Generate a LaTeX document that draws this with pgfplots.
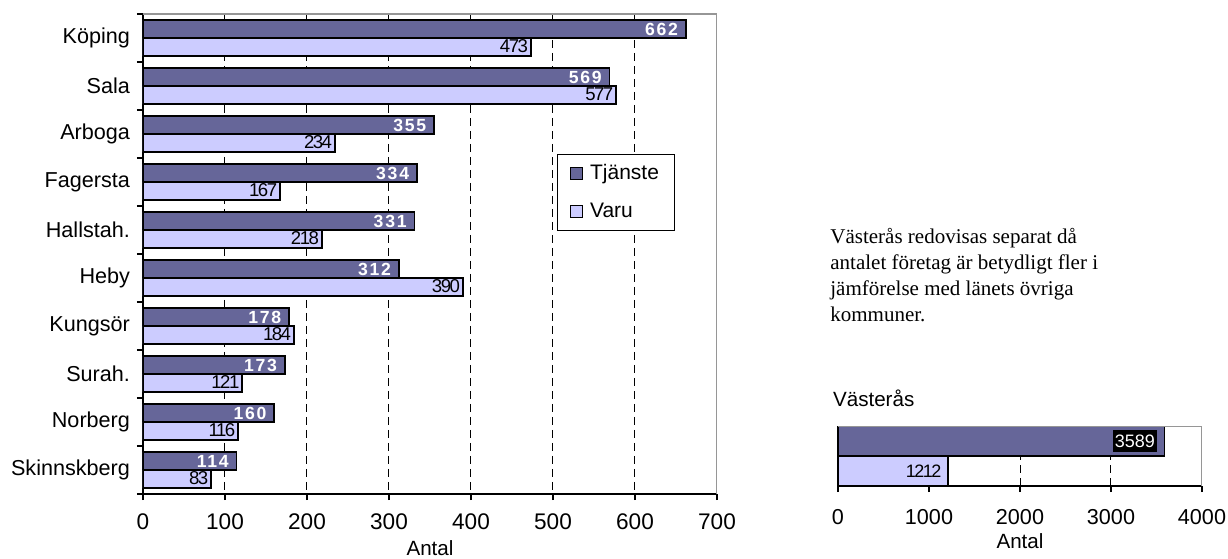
\documentclass[border=0pt]{standalone}
\usepackage{pgfplots}
\pgfplotsset{compat=1.18}
\usepackage{fontspec}
\setmainfont{Liberation Sans}
\newfontfamily\timesfont{Liberation Serif}
\newfontfamily\spacedfont[LetterSpace=10]{Liberation Sans}
\newfontfamily\tightfont[LetterSpace=-8]{Liberation Sans}
\definecolor{tj}{RGB}{102,102,153}
\definecolor{va}{RGB}{204,204,255}
\definecolor{frame}{RGB}{150,150,150}
\begin{document}
\begin{tikzpicture}
\path[use as bounding box] (0,0) rectangle (614pt,279pt);
\begin{axis}[
  at={(71.5pt,32pt)}, anchor=south west,
  scale only axis, width=287pt, height=240pt,
  xbar, y dir=reverse,
  xmin=0, xmax=700, xtick={0,100,...,700},
  ymin=-0.5, ymax=9.5,
  ytick={-0.5,0.5,...,9.5},
  y tick label as interval,
  yticklabels={K\"oping,Sala,Arboga,Fagersta,Hallstah.,Heby,Kungs\"or,Surah.,Norberg,Skinnskberg},
  axis x line*=bottom, axis y line*=left,
  axis line style={black, line width=0.7pt},
  tick align=outside, major tick length=3pt,
  tick style={black, line width=0.6pt},
  xmajorgrids, grid style={black, dash pattern=on 4pt off 2.5pt, line width=0.5pt},
  bar width=0.375,
  yticklabel style={font=\fontsize{10.8}{12}\selectfont},
  xticklabel style={font=\fontsize{11.3}{12}\selectfont, yshift=-3.5pt},
  /pgf/number format/assume math mode=true,
  xlabel={Antal}, xlabel style={font=\fontsize{10.3}{12}\selectfont, yshift=1.5pt},
  legend style={at={(rel axis cs:0.722,0.708)}, anchor=north west, draw=black, line width=0.5pt,
     font=\fontsize{10.5}{12}\selectfont, inner xsep=6pt, inner ysep=3pt, row sep=6pt,
     /tikz/every odd column/.append style={column sep=1.5pt}},
  legend image code/.code={\draw[#1, draw=black, line width=0.6pt] (0pt,-3pt) rectangle (6pt,3pt);},
  legend cell align=left,
]
\addplot[fill=tj, draw=black, line width=0.8pt, bar shift=-0.1875,
  nodes near coords,
  every node near coord/.append style={anchor=east, xshift=-2.5pt, text=white, inner sep=1pt, font=\spacedfont\bfseries\fontsize{8.8}{9}\selectfont}]
  coordinates {(662,0) (569,1) (355,2) (334,3) (331,4) (312,5) (178,6) (173,7) (160,8) (114,9)};
\addlegendentry{Tj\"anste}
\addplot[fill=va, draw=black, line width=0.8pt, bar shift=0.1875,
  nodes near coords,
  every node near coord/.append style={anchor=east, text=black, inner sep=1pt, yshift=0.5pt, font=\tightfont\fontsize{9.3}{9}\selectfont}]
  coordinates {(473,0) (577,1) (234,2) (167,3) (218,4) (390,5) (184,6) (121,7) (116,8) (83,9)};
\addlegendentry{Varu}
\draw[frame, line width=1pt] (rel axis cs:0,1) -- (rel axis cs:1,1) -- (rel axis cs:1,0);
\end{axis}

\begin{axis}[
  at={(419pt,36pt)}, anchor=south west,
  scale only axis, width=182pt, height=30pt,
  xbar, y dir=reverse,
  xmin=0, xmax=4000, xtick={0,1000,...,4000},
  ymin=-0.5, ymax=0.5, ytick=\empty,
  axis x line*=bottom, axis y line*=left,
  axis line style={black, line width=0.7pt},
  tick align=outside, major tick length=3pt,
  tick style={black, line width=0.6pt},
  xmajorgrids, grid style={black, dash pattern=on 4pt off 2.5pt, line width=0.5pt},
  bar width=0.5,
  xticklabel style={font=\fontsize{10.8}{12}\selectfont, yshift=-5pt},
  /pgf/number format/assume math mode=true,
  /pgf/number format/set thousands separator={},
  xlabel={Antal}, xlabel style={font=\fontsize{10.3}{12}\selectfont, yshift=2.5pt},
  title={V\"aster\aa s}, title style={at={(rel axis cs:0,1)}, anchor=south west, xshift=-6pt, yshift=0pt, font=\fontsize{10.3}{12}\selectfont},
]
\addplot[fill=tj, draw=black, line width=0.8pt, bar shift=-0.25,
  nodes near coords,
  every node near coord/.append style={anchor=east, xshift=-3.5pt, fill=black, text=white, inner xsep=1pt, inner ysep=2.5pt, font=\fontsize{9}{9}\selectfont}]
  coordinates {(3589,0)};
\addplot[fill=va, draw=black, line width=0.8pt, bar shift=0.25,
  nodes near coords,
  every node near coord/.append style={anchor=east, xshift=-2pt, text=black, inner sep=1pt, font=\tightfont\fontsize{9}{9}\selectfont}]
  coordinates {(1212,0)};
\draw[frame, line width=0.8pt] (rel axis cs:0,1) -- (rel axis cs:1,1) -- (rel axis cs:1,0);
\end{axis}

\node[anchor=base west, align=left, inner sep=0pt,
  font=\timesfont\fontsize{10.5}{13.1}\selectfont] at (415pt,118pt)
  {V\"aster\aa s redovisas separat d\aa\\
   antalet f\"oretag \"ar betydligt fler i\\
   j\"amf\"orelse med l\"anets \"ovriga\\
   kommuner.};
\end{tikzpicture}
\end{document}
